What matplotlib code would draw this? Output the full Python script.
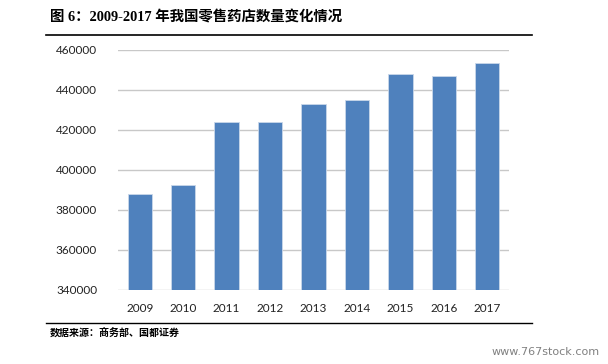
import matplotlib.pyplot as plt
import numpy as np

years = ['2009', '2010', '2011', '2012', '2013', '2014', '2015', '2016', '2017']
stores = [388000, 392300, 423800, 423800, 432800, 435000, 448200, 447000, 453700]
yticks = [340000, 360000, 380000, 400000, 420000, 440000, 460000]

title = '图 6：2009-2017 年我国零售药店数量变化情况'
source = '数据来源：商务部、国都证券'

fig = plt.figure(figsize=(6.08, 3.64), dpi=100)
ax = fig.add_axes([118/608, 1 - 290/364, 391/608, 240/364])

x = np.arange(len(years))
ax.bar(x, stores, width=0.56, color='#4F81BD', edgecolor='#C9D7EA', linewidth=0.6, zorder=3)

ax.set_xlim(-0.5, len(years) - 0.5)
ax.set_ylim(340000, 460000)
ax.set_yticks(yticks)
ax.set_yticklabels([str(v) for v in yticks])
ax.set_xticks(x)
ax.set_xticklabels(years)
ax.grid(axis='y', color='#C8C8C8', linewidth=1.0, zorder=0)
for s in ax.spines.values():
    s.set_visible(False)
ax.tick_params(axis='both', length=0, labelsize=8.5, colors='#222222')
ax.tick_params(axis='y', pad=15)
ax.tick_params(axis='x', pad=9)
for lab in ax.get_xticklabels() + ax.get_yticklabels():
    lab.set_family(['Lato', 'DejaVu Sans'])

# title, rules and source note
fig.text(50/608, 1 - 18/364, title, fontsize=10.4, fontweight='bold',
         family=['Liberation Serif', 'Noto Sans CJK SC'], va='center', ha='left')
fig.add_artist(plt.Line2D([46/608, 532/608], [1 - 35/364, 1 - 35/364], color='black', linewidth=1.2))
fig.add_artist(plt.Line2D([46/608, 532/608], [1 - 323/364, 1 - 323/364], color='black', linewidth=1.0))
fig.text(50/608, 1 - 333/364, source, fontsize=7.2, fontweight='bold',
         family=['Noto Sans CJK SC', 'DejaVu Sans'], va='center', ha='left')
fig.text(600/608, 1 - 352/364, 'www.767stock.com', fontsize=8, color='#808080',
         family=['DejaVu Sans'], va='center', ha='right')

fig.savefig('out.png', dpi=100)
